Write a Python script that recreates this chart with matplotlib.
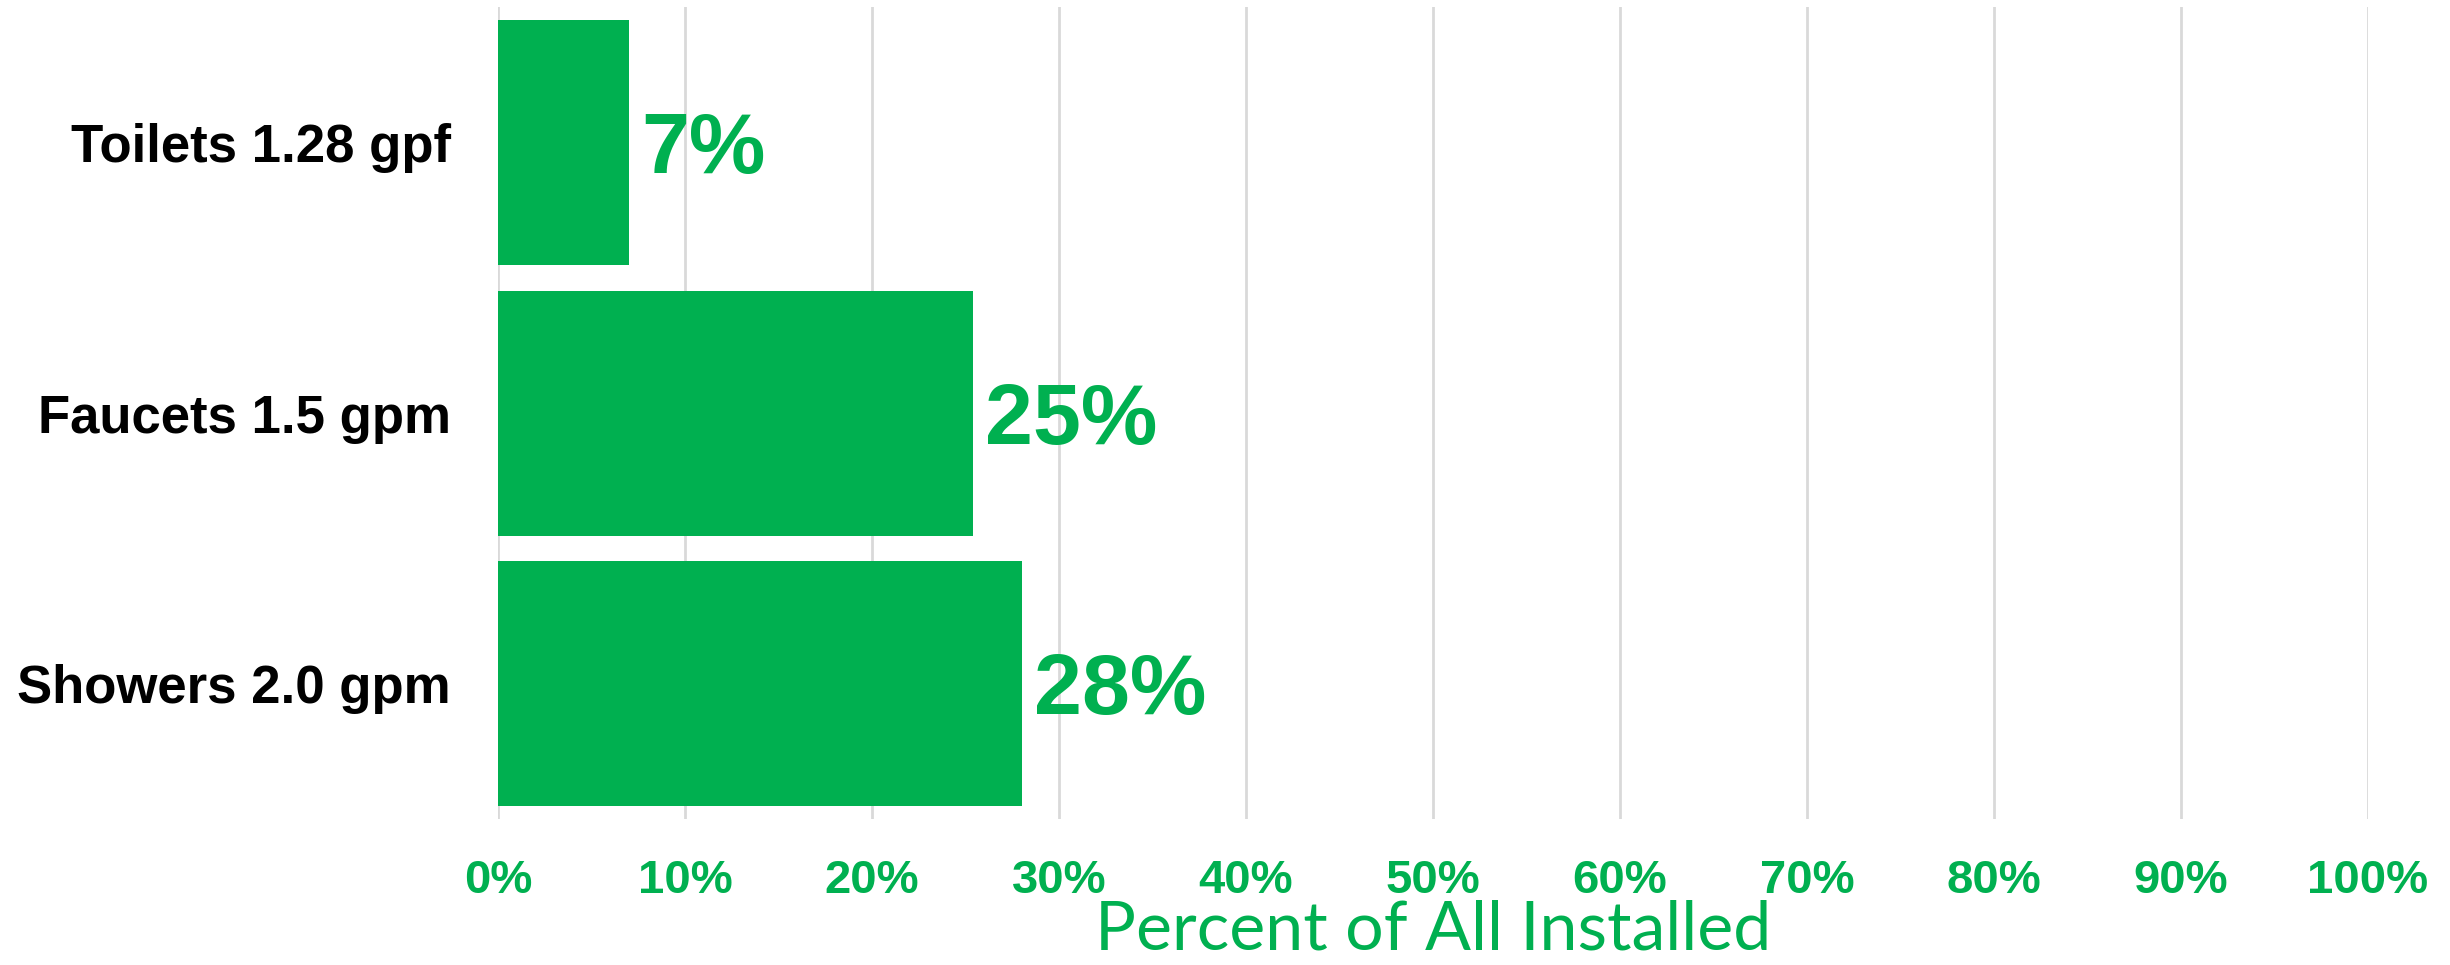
import matplotlib
matplotlib.use("Agg")
import matplotlib.pyplot as plt
import matplotlib.ticker as ticker
import matplotlib.transforms as mtransforms

# data (top to bottom in the picture)
categories = ["Toilets 1.28 gpf", "Faucets 1.5 gpm", "Showers 2.0 gpm"]
values = [0.07, 0.254, 0.28]
value_labels = ["7%", "25%", "28%"]
x_ticks = [0.0, 0.1, 0.2, 0.3, 0.4, 0.5, 0.6, 0.7, 0.8, 0.9, 1.0]

green = "#00b050"

fig = plt.figure(figsize=(24.5, 9.65), dpi=100)
ax = fig.add_axes([498 / 2450, 146 / 965, 1870 / 2450, 811.6 / 965])

# bottom bar first so Toilets ends on top
ypos = list(range(len(categories)))[::-1]
bars = ax.barh(ypos, values, height=0.907, color=green, zorder=2)

# value labels, caps centred on the bar
for y, v, lab in zip(ypos, values, value_labels):
    ax.annotate(lab, xy=(v, y), xytext=(9, -6), textcoords="offset points",
                ha="left", va="center", color=green, fontsize=62,
                fontweight="bold", family="Liberation Sans")

ax.set_xlim(0, 1)
ax.set_ylim(-0.5, 2.5)
ax.set_yticks(ypos)
ax.set_yticklabels(categories, fontsize=38, fontweight="bold",
                   family="Liberation Sans", color="black")
ax.set_xticks(x_ticks)
ax.xaxis.set_major_formatter(ticker.PercentFormatter(1.0, decimals=0))
for lab in ax.get_xticklabels():
    lab.set_fontsize(34)
    lab.set_fontweight("bold")
    lab.set_family("Liberation Sans")
    lab.set_color(green)

ax.tick_params(axis="y", length=0, pad=34)
ax.tick_params(axis="x", length=0, pad=29)

ax.grid(axis="x", color="#d9d9d9", linewidth=2, zorder=0)
for s in ax.spines.values():
    s.set_visible(False)

ax.set_xlabel("Percent of All Installed", fontsize=49, color=green,
              family="Lato")
ax.xaxis.label.set_va("baseline")
ax.xaxis.set_label_coords(
    0.5, 15 / 965,
    transform=mtransforms.blended_transform_factory(ax.transAxes, fig.transFigure))

fig.savefig("out.png", dpi=100)
